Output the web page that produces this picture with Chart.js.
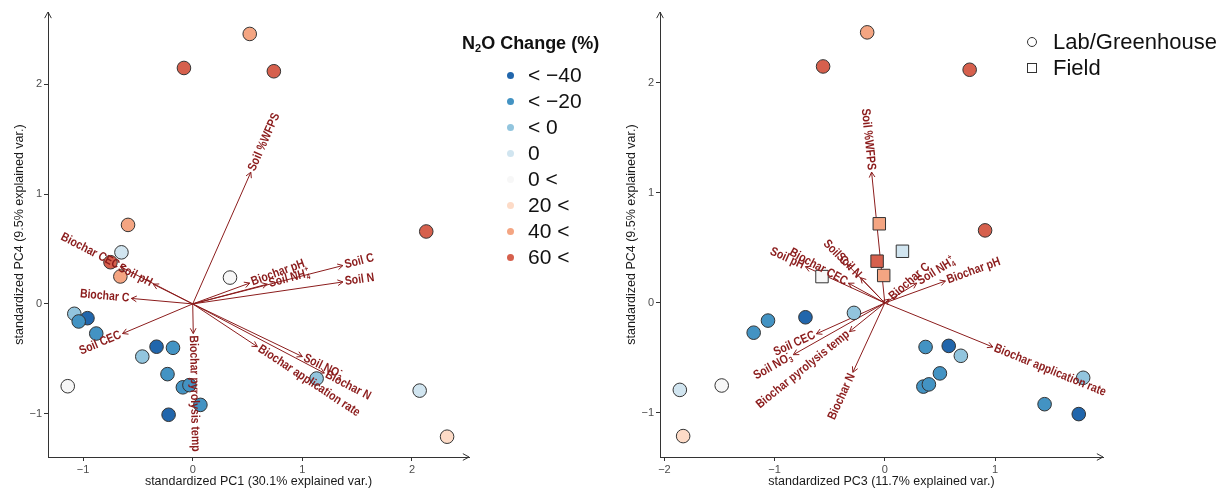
<!DOCTYPE html>
<html>
<head>
<meta charset="utf-8">
<script src="https://cdn.jsdelivr.net/npm/chart.js@4.4.0/dist/chart.umd.min.js"></script>
<style>
  body { margin: 0; background: #fff; width: 1231px; height: 488px; overflow: hidden; position: relative;
         font-family: "Liberation Sans", Arial, sans-serif; }
  #c1 { position: absolute; left: 0; top: 0; }
  #c2 { position: absolute; left: 615px; top: 0; }
  .lg-title { position: absolute; left: 462px; top: 33px; font-weight: bold; font-size: 18px; color: #111; white-space: nowrap; }
  .lg-title sub { font-size: 11px; vertical-align: -3px; }
  .lg-row { position: absolute; left: 507px; height: 26px; line-height: 26px; font-size: 21px; color: #111; white-space: nowrap; }
  .lg-dot { display: inline-block; width: 7px; height: 7px; border-radius: 50%; margin-right: 14px; vertical-align: 3px; }
  .sh-row { position: absolute; left: 1027px; height: 26px; line-height: 26px; font-size: 22px; color: #111; white-space: nowrap; }
  .sh-sym { display: inline-block; width: 10px; height: 10px; border: 1px solid #333; margin-right: 16px; vertical-align: 2px; box-sizing: border-box; }
</style>
</head>
<body>
<canvas id="c1" width="615" height="488"></canvas>
<canvas id="c2" width="616" height="488"></canvas>
<div id="legend1"></div>
<div id="legend2"></div>

<script>
// N2O change classes and their colours (RdBu)
const changeClasses = ['< \u221240', '< \u221220', '< 0', '0', '0 <', '20 <', '40 <', '60 <'];
const classColors = ['#2166ac', '#4393c3', '#92c5de', '#d1e5f0', '#f7f7f7', '#fddbc7', '#f4a582', '#d6604d'];

// studies (same order in both panels)
const pc1 = [0.52, -0.08, 0.74, -0.59, -0.65, -0.75, -0.66, 0.34, 2.13, -1.08, -0.96, -1.04, -0.88,
             -0.33, -0.18, -0.46, -0.23, -0.09, -0.03, 0.07, -0.22, -1.14, 1.13, 2.07, 2.32];
const pc3 = [-0.16, -0.56, 0.77, -0.05, 0.16, -0.07, -0.01, -0.57, 0.91, -0.28, -0.72, -1.06, -1.19,
             0.58, 0.37, 0.69, 0.50, 0.35, 0.40, 1.45, 1.76, -1.48, 1.80, -1.86, -1.83];
const pc4 = [2.46, 2.15, 2.12, 0.72, 0.47, 0.38, 0.25, 0.24, 0.66, -0.09, -0.13, -0.16, -0.27,
             -0.39, -0.40, -0.48, -0.64, -0.76, -0.74, -0.92, -1.01, -0.75, -0.68, -0.79, -1.21];
const changeClass = [6, 7, 7, 6, 3, 7, 6, 4, 7, 2, 0, 1, 1, 0, 1, 2, 1, 1, 1, 1, 0, 4, 2, 3, 5];
const setting = ['Lab', 'Lab', 'Lab', 'Field', 'Field', 'Field', 'Field', 'Field', 'Lab', 'Lab', 'Lab', 'Lab', 'Lab',
                 'Lab', 'Lab', 'Lab', 'Lab', 'Lab', 'Lab', 'Lab', 'Lab', 'Lab', 'Lab', 'Lab', 'Lab'];
const settingNames = ['Lab/Greenhouse', 'Field'];

// variable loadings (arrows)
const variables = ['Soil %WFPS', 'Soil C', 'Soil N', 'Biochar pH', 'Soil NH4+', 'Biochar C', 'Soil pH',
                   'Biochar CEC', 'Soil CEC', 'Biochar pyrolysis temp', 'Biochar application rate', 'Soil NO3-', 'Biochar N'];
// left panel (PC1 vs PC4)
const loadPC1 = [0.53, 1.37, 1.37, 0.52, 0.68, -0.56, -0.36, -0.66, -0.64, 0.005, 0.59, 1.00, 1.20];
const loadPC4a = [1.20, 0.35, 0.20, 0.19, 0.18, 0.05, 0.18, 0.34, -0.27, -0.27, -0.39, -0.48, -0.63];
// right panel (PC3 vs PC4)
const loadPC3 = [-0.12, -0.34, -0.22, 0.55, 0.29, 0.04, -0.72, -0.33, -0.62, -0.32, 0.98, -0.83, -0.29];
const loadPC4b = [1.19, 0.35, 0.23, 0.20, 0.18, 0.035, 0.33, 0.18, -0.28, -0.26, -0.40, -0.47, -0.63];

const ticksPC1 = [-1, 0, 1, 2];
const ticksPC3 = [-2, -1, 0, 1];
const ticksPC4 = [-1, 0, 1, 2];

const arrowColor = '#8b1c1c';
const FONT = "'Liberation Sans', Arial, sans-serif";
Chart.defaults.font.family = FONT;

function fmtTick(v) {
  return v < 0 ? '\u2212' + Math.abs(v) : String(v);
}

function arrowHead(ctx, x0, y0, x1, y1, len, spread) {
  const a = Math.atan2(y1 - y0, x1 - x0);
  ctx.beginPath();
  ctx.moveTo(x1 - len * Math.cos(a - spread), y1 - len * Math.sin(a - spread));
  ctx.lineTo(x1, y1);
  ctx.lineTo(x1 - len * Math.cos(a + spread), y1 - len * Math.sin(a + spread));
  ctx.stroke();
}

// split names with chemical sub/superscripts
function labelParts(name) {
  if (name === 'Soil NH4+') return [{ t: 'Soil NH' }, { sub: '4', sup: '+' }];
  if (name === 'Soil NO3-') return [{ t: 'Soil NO' }, { sub: '3', sup: '-' }];
  return [{ t: name }];
}

function drawLabel(ctx, name, alignLeft) {
  const big = 'bold 12.5px ' + FONT, small = 'bold 8px ' + FONT;
  const parts = labelParts(name);
  const widths = parts.map(p => {
    if (p.t) { ctx.font = big; return ctx.measureText(p.t).width; }
    ctx.font = small;
    return Math.max(ctx.measureText(p.sub).width, ctx.measureText(p.sup).width) + 1;
  });
  const total = widths.reduce((a, b) => a + b, 0);
  let x = alignLeft ? 0 : -total;
  ctx.textAlign = 'left';
  ctx.textBaseline = 'middle';
  parts.forEach((p, i) => {
    if (p.t) {
      ctx.font = big; ctx.fillText(p.t, x, 0);
    } else {
      ctx.font = small;
      ctx.fillText(p.sub, x + 0.5, 3.5);
      ctx.fillText(p.sup, x + 0.5, -4.5);
    }
    x += widths[i];
  });
}

const biplot = {
  id: 'biplot',
  beforeDatasetsDraw(chart, args, opts) {
    const { ctx, scales: { x, y } } = chart;
    const ox = x.getPixelForValue(0), oy = y.getPixelForValue(0);
    ctx.save();
    ctx.strokeStyle = arrowColor;
    ctx.lineWidth = 1;
    opts.lx.forEach((v, i) => {
      const px = x.getPixelForValue(v), py = y.getPixelForValue(opts.ly[i]);
      ctx.beginPath(); ctx.moveTo(ox, oy); ctx.lineTo(px, py); ctx.stroke();
      arrowHead(ctx, ox, oy, px, py, 6, 0.5);
    });
    ctx.restore();
  },
  afterDatasetsDraw(chart, args, opts) {
    const { ctx, scales: { x, y } } = chart;
    const ox = x.getPixelForValue(0), oy = y.getPixelForValue(0);
    ctx.save();
    ctx.fillStyle = arrowColor;
    opts.lx.forEach((v, i) => {
      const px = x.getPixelForValue(v), py = y.getPixelForValue(opts.ly[i]);
      const dx = px - ox, dy = py - oy, d = Math.hypot(dx, dy);
      ctx.save();
      ctx.translate(px + 2 * dx / d, py + 2 * dy / d);
      ctx.rotate(Math.atan(dy / dx));
      ctx.scale(0.84, 1);
      drawLabel(ctx, variables[i], dx >= 0);
      ctx.restore();
    });
    ctx.restore();
  },
  afterDraw(chart, args, opts) {
    const { ctx, chartArea: a } = chart;
    ctx.save();
    ctx.strokeStyle = '#333';
    ctx.lineWidth = 1;
    arrowHead(ctx, a.left, a.top + 20, a.left, a.top, 7, 0.5);
    arrowHead(ctx, a.right - 20, a.bottom, a.right, a.bottom, 7, 0.5);
    ctx.fillStyle = '#1a1a1a';
    ctx.font = '12.5px ' + FONT;
    ctx.textAlign = 'center';
    ctx.textBaseline = 'middle';
    ctx.fillText(opts.xTitle, (a.left + a.right) / 2, 482);
    ctx.translate(a.left - 28, (a.top + a.bottom) / 2);
    ctx.rotate(-Math.PI / 2);
    ctx.fillText(opts.yTitle, 0, 0);
    ctx.restore();
  }
};

function axis(min, max, ticks, isY) {
  return {
    type: 'linear', min: min, max: max,
    afterBuildTicks: s => { s.ticks = ticks.map(v => ({ value: v })); },
    afterFit: s => { if (isY) s.width = 40; else s.height = 31; },
    grid: { drawOnChartArea: false, drawTicks: true, tickLength: 4, color: '#333' },
    border: { display: true, color: '#333', width: 1 },
    ticks: { color: '#4d4d4d', font: { size: 11 }, padding: 2, callback: v => fmtTick(v) }
  };
}

function makeChart(id, xs, lx, ly, xr, yr, xt, xTitle, pad, useShapes) {
  const pts = xs.map((v, i) => ({ x: v, y: pc4[i] }));
  new Chart(document.getElementById(id), {
    type: 'scatter',
    data: {
      datasets: [{
        data: pts,
        pointBackgroundColor: changeClass.map(c => classColors[c]),
        pointBorderColor: '#333',
        pointBorderWidth: 1,
        pointStyle: setting.map(s => (useShapes && s === 'Field') ? 'rect' : 'circle'),
        pointRadius: setting.map(s => (useShapes && s === 'Field') ? 8.8 : 6.8),
        clip: false
      }]
    },
    options: {
      responsive: false,
      animation: false,
      events: [],
      layout: { padding: pad },
      plugins: {
        legend: { display: false },
        tooltip: { enabled: false },
        biplot: { lx: lx, ly: ly, xTitle: xTitle, yTitle: 'standardized PC4 (9.5% explained var.)' }
      },
      scales: {
        x: axis(xr[0], xr[1], xt, false),
        y: axis(yr[0], yr[1], ticksPC4, true)
      }
    },
    plugins: [biplot]
  });
}

makeChart('c1', pc1, loadPC1, loadPC4a, [-1.32, 2.52], [-1.395, 2.66], ticksPC1,
  'standardized PC1 (30.1% explained var.)', { left: 8, top: 12, right: 146, bottom: 0 }, false);
makeChart('c2', pc3, loadPC3, loadPC4b, [-2.04, 1.98], [-1.40, 2.645], ticksPC3,
  'standardized PC3 (11.7% explained var.)', { left: 5, top: 12, right: 128, bottom: 0 }, true);

// legends
const lg1 = document.getElementById('legend1');
lg1.innerHTML = '<div class="lg-title">N<sub>2</sub>O Change (%)</div>';
changeClasses.forEach((c, i) => {
  const row = document.createElement('div');
  row.className = 'lg-row';
  row.style.top = (62 + 26 * i) + 'px';
  row.innerHTML = '<span class="lg-dot" style="background:' + classColors[i] + '"></span>' + c.replace('<', '&lt;');
  lg1.appendChild(row);
});
const lg2 = document.getElementById('legend2');
settingNames.forEach((s, i) => {
  const row = document.createElement('div');
  row.className = 'sh-row';
  row.style.top = (29 + 26 * i) + 'px';
  row.innerHTML = '<span class="sh-sym" style="border-radius:' + (i === 0 ? '50%' : '0') + '"></span>' + s;
  lg2.appendChild(row);
});
</script>
</body>
</html>
